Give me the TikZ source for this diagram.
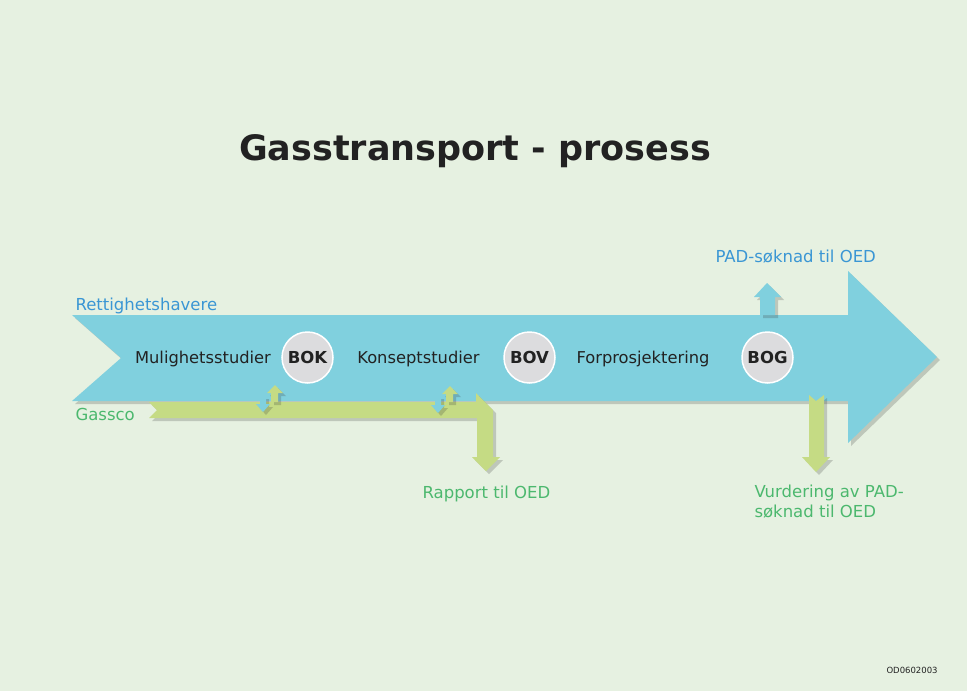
\documentclass[tikz,border=0pt]{standalone}
\usepackage{fontspec}
\setmainfont{DejaVu Sans}
\usetikzlibrary{shadows}

\definecolor{bgcol}{RGB}{230,241,225}
\definecolor{flowblue}{RGB}{128,208,222}
\definecolor{flowgreen}{RGB}{197,219,132}
\definecolor{gatefill}{RGB}{220,220,222}
\definecolor{labelblue}{RGB}{58,150,212}
\definecolor{labelgreen}{RGB}{76,184,110}
\definecolor{inkdark}{RGB}{34,34,34}

\tikzset{
  softshadow/.style={drop shadow={shadow xshift=3pt,shadow yshift=-3pt,fill=black!80,opacity=.22}},
  phase/.style={anchor=base,text=inkdark,font=\fontsize{16.3}{19}\selectfont},
  gate/.style={circle,minimum size=51pt,inner sep=0pt,fill=gatefill,draw=white,line width=1.5pt,
    text=inkdark,font=\fontsize{16.5}{19}\selectfont\bfseries},
  bluelabel/.style={anchor=base west,text=labelblue,font=\fontsize{16.5}{19}\selectfont},
  greenlabel/.style={anchor=base west,text=labelgreen,font=\fontsize{16.5}{19.5}\selectfont,align=left}
}

\begin{document}
\begin{tikzpicture}[x=1pt,y=-1pt]
  \useasboundingbox (0,0) rectangle (967,691);
  \fill[bgcol] (0,0) rectangle (967,691);

  % title
  \node[anchor=base,text=inkdark,font=\fontsize{35}{40}\selectfont\bfseries] (title) at (475,160) {Gasstransport - prosess};

  % main process arrow
  \fill[flowblue,softshadow] (72,315) -- (848,315) -- (848,271) -- (937,357) -- (848,443)
    -- (848,401) -- (72,401) -- (121,358) -- cycle;

  % Gassco band with report arrow
  \fill[flowgreen,softshadow] (149,402) -- (476,402) -- (476,393) -- (493,410) -- (493,457)
    -- (500,457) -- (486,471) -- (472,457) -- (477,457) -- (477,418) -- (149,418) -- (157,410) -- cycle;

  % exchange arrows
  \fill[flowblue,softshadow] (260,396) -- (266,396) -- (266,404) -- (270,404) -- (263,412) -- (256,404) -- (260,404) -- cycle;
  \fill[flowgreen,softshadow] (271,402) -- (271,393) -- (267,393) -- (275,385) -- (283,393) -- (278,393) -- (278,402) -- cycle;
  \fill[flowblue,softshadow] (435,396) -- (441,396) -- (441,405) -- (445,405) -- (438,413) -- (431,405) -- (435,405) -- cycle;
  \fill[flowgreen,softshadow] (446,402) -- (446,394) -- (442,394) -- (450,386) -- (458,394) -- (453,394) -- (453,402) -- cycle;

  % PAD application out
  \fill[flowblue,softshadow] (760,315) -- (760,297) -- (754,297) -- (767,283) -- (781,297)
    -- (775,297) -- (775,315) -- cycle;
  % evaluation arrow
  \fill[flowgreen,softshadow] (809,395) -- (816,401) -- (824,395) -- (824,457) -- (830,457)
    -- (816,472) -- (802,457) -- (809,457) -- cycle;

  % phases and decision gates
  \node[phase] (mul) at (203,363) {Mulighetsstudier};
  \node[phase] (kon) at (418.5,363) {Konseptstudier};
  \node[phase] (forp) at (643,363) {Forprosjektering};
  \node[gate] (bok) at (307.5,357.5) {BOK};
  \node[gate] (bov) at (529.5,357.5) {BOV};
  \node[gate] (bog) at (767.5,357.5) {BOG};

  % labels
  \node[bluelabel] (rett) at (72,310) {Rettighetshavere};
  \node[greenlabel] (gassco) at (72,420) {Gassco};
  \node[bluelabel] (pad) at (712,262) {PAD-søknad til OED};
  \node[greenlabel] (rapport) at (419,498) {Rapport til OED};
  \node[greenlabel] (vurd) at (751,517) {Vurdering av PAD-\\søknad til OED};
  \node[anchor=base west,text=inkdark,font=\fontsize{8.5}{10}\selectfont] (ref) at (883,673) {OD0602003};
\end{tikzpicture}
\end{document}
